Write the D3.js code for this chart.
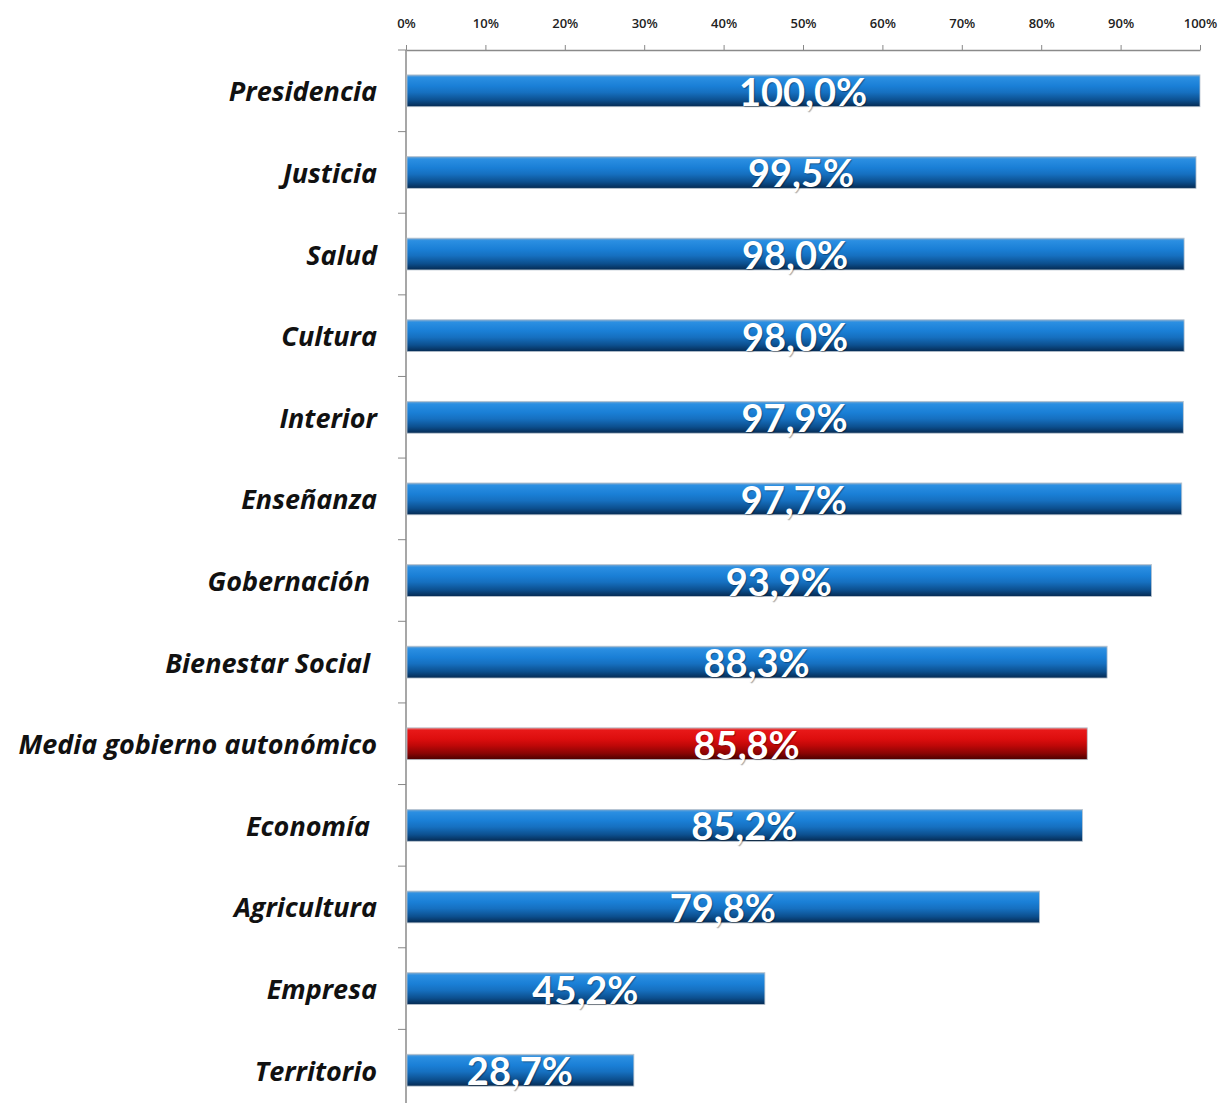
<!DOCTYPE html>
<html><head><meta charset="utf-8">
<script src="https://cdn.jsdelivr.net/npm/d3@7"></script>
<style>
body{margin:0;background:#fff;}
svg{display:block;}
</style></head>
<body>
<script>
const categories = ["Presidencia","Justicia","Salud","Cultura","Interior","Enseñanza","Gobernación ","Bienestar Social ","Media gobierno autonómico","Economía ","Agricultura","Empresa","Territorio"];
const values = [100.0, 99.5, 98.0, 98.0, 97.9, 97.7, 93.9, 88.3, 85.8, 85.2, 79.8, 45.2, 28.7];
const highlight = ["Media gobierno autonómico"];
const xTicks = [0,10,20,30,40,50,60,70,80,90,100];

const W = 1223, H = 1103;
const svg = d3.select("body").append("svg").attr("width", W).attr("height", H);
const defs = svg.append("defs");
function grad(id, stops){
  const g = defs.append("linearGradient").attr("id", id).attr("x1",0).attr("y1",0).attr("x2",0).attr("y2",1);
  stops.forEach(s => g.append("stop").attr("offset", s[0]).attr("stop-color", s[1]));
}
grad("gBlue", [["0","#7fa9cf"],["0.08","#2b8fe2"],["0.35","#1a7fd6"],["0.55","#1670c0"],["0.8","#0c4f8e"],["1","#052a52"]]);
grad("gRed", [["0","#e08080"],["0.08","#e81818"],["0.35","#dd0e0e"],["0.55","#c00808"],["0.8","#8a0404"],["1","#4a0000"]]);

const x = d3.scaleLinear().domain([0,100]).range([406,1200]);
const y = d3.scaleBand().domain(categories).range([50,1111]).paddingInner(0.61).paddingOuter(0.305);

// x axis on top
const xa = svg.append("g").attr("transform","translate(0,50)")
  .call(d3.axisTop(x).tickValues(xTicks).tickFormat(d=>d+"%").tickSize(5).tickSizeOuter(0).tickPadding(17));
xa.select(".domain").attr("stroke","#8a8a8a").attr("stroke-width",1.5);
xa.selectAll(".tick line").attr("stroke","#888");
xa.selectAll(".tick text").attr("font-family","'Open Sans', sans-serif").attr("font-size",13).attr("font-weight",600).attr("fill","#222");

// y axis line and boundary ticks
const yl = svg.append("g");
yl.append("line").attr("x1",406).attr("x2",406).attr("y1",50).attr("y2",H).attr("stroke","#8a8a8a").attr("stroke-width",1.5);
const gap = (y.step()-y.bandwidth())/2;
yl.selectAll("line.t").data(categories).enter().append("line").attr("class","t")
  .attr("x1",398).attr("x2",406)
  .attr("y1",d=>y(d)-gap).attr("y2",d=>y(d)-gap)
  .attr("stroke","#888");

// bars
const rows = categories.map((c,i)=>({c, v: values[i], hi: highlight.includes(c)}));
svg.selectAll("rect.bar").data(rows).enter().append("rect").attr("class","bar")
  .attr("x", x(0)+1).attr("y", d=>y(d.c))
  .attr("width", d=>x(d.v)-x(0)-1).attr("height", y.bandwidth())
  .attr("fill", d=>d.hi ? "url(#gRed)" : "url(#gBlue)")
  .attr("stroke","#b8c4cf").attr("stroke-width",0.8);

// category labels
svg.selectAll("text.cat").data(rows).enter().append("text").attr("class","cat")
  .attr("x", 377).attr("y", d=>y(d.c)+y.bandwidth()/2)
  .attr("text-anchor","end").attr("dominant-baseline","central")
  .style("white-space","pre")
  .attr("font-family","'Open Sans', sans-serif").attr("font-style","italic").attr("font-weight","bold")
  .attr("font-size",27).attr("fill","#111")
  .text(d=>d.c);

// value labels
svg.selectAll("text.val").data(rows).enter().append("text").attr("class","val")
  .attr("x", d=>(x(0)+x(d.v))/2).attr("y", d=>y(d.c)+y.bandwidth()/2)
  .attr("text-anchor","middle").attr("dominant-baseline","central")
  .attr("font-family","Lato, sans-serif").attr("font-weight","bold")
  .attr("font-size",38).attr("fill","#fff")
  .style("text-shadow","1px 1px 1px rgba(0,0,0,0.35)")
  .text(d=>d.v.toFixed(1).replace(".",",")+"%");
</script>
</body></html>
